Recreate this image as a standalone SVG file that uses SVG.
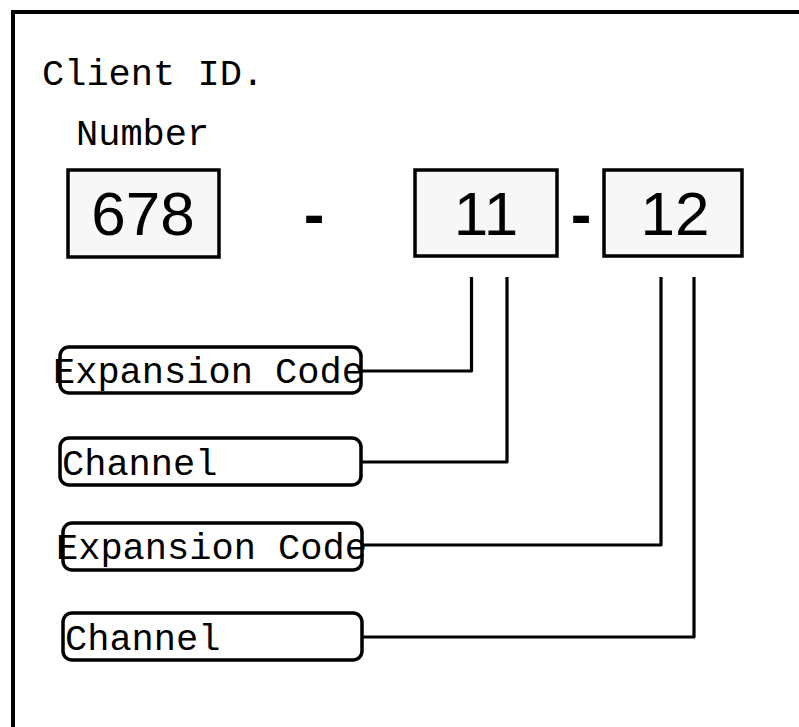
<svg xmlns="http://www.w3.org/2000/svg" width="799" height="727" viewBox="0 0 799 727">
<style>
.mono{font-family:"Courier New","Liberation Mono",monospace;font-size:37px;fill:#000}
.big{font-family:"Liberation Sans",Arial,sans-serif;font-size:62px;fill:#000;text-anchor:middle}
.dash{font-weight:bold}
.box{fill:#f7f7f7;stroke:#000;stroke-width:3.5}
.lbl{fill:#fff;stroke:#000;stroke-width:3.5}
.conn{fill:none;stroke:#000;stroke-width:3.2;stroke-linejoin:round}
</style>
<rect x="0" y="0" width="799" height="727" fill="#fff"/>
<rect id="frame" x="13" y="12" width="800" height="730" fill="none" stroke="#000" stroke-width="4"/>
<text class="mono" x="42" y="85">Client ID.</text>
<text class="mono" x="76" y="145">Number</text>
<g id="n678"><rect class="box" x="68" y="170" width="151" height="87"/><text class="big" x="143" y="235">678</text></g>
<text class="big dash" x="314" y="235">-</text>
<g id="n11"><rect class="box" x="415" y="170" width="142" height="86"/><text class="big" x="486" y="235">11</text></g>
<text class="big dash" x="581" y="235">-</text>
<g id="n12"><rect class="box" x="604" y="170" width="138" height="86"/><text class="big" x="675" y="235">12</text></g>
<g id="exp1"><rect class="lbl" x="60" y="347" width="301" height="46" rx="9"/><text class="mono" x="53" y="383">Expansion Code</text></g>
<g id="ch1"><rect class="lbl" x="60" y="438" width="301" height="47" rx="9"/><text class="mono" x="62" y="475">Channel</text></g>
<g id="exp2"><rect class="lbl" x="63" y="523" width="299" height="47" rx="9"/><text class="mono" x="56" y="559">Expansion Code</text></g>
<g id="ch2"><rect class="lbl" x="63" y="613" width="299" height="47" rx="9"/><text class="mono" x="65" y="650">Channel</text></g>
<g id="connectors">
<path class="conn" d="M471.5 277 V371 H361"/>
<path class="conn" d="M507 277 V462 H361"/>
<path class="conn" d="M661 277 V545 H362"/>
<path class="conn" d="M694 277 V637 H362"/>
</g>
</svg>
